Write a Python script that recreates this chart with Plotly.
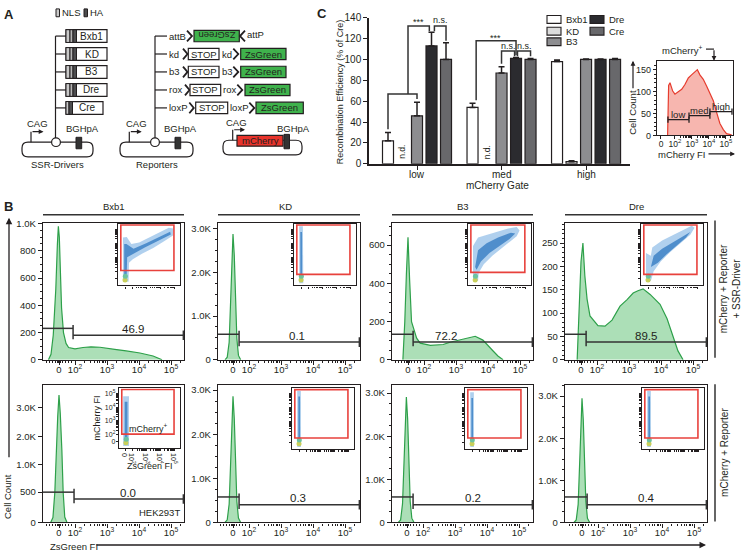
import numpy as np
import plotly.graph_objects as go

W, H = 742, 552
FONT = "Liberation Sans, Arial, Helvetica, sans-serif"
INK = "#231f20"

# ====================== DATA ======================
# Panel C: recombination efficiency (% of Cre) per mCherry gate
gates = ["low", "med", "high"]
drivers = ["Bxb1", "KD", "B3", "Dre", "Cre"]
eff_bxb1 = [22, 54, 98]
eff_kd = [None, None, 2]
eff_b3 = [46, 87, 100]
eff_dre = [113, 101, 100]
eff_cre = [100, 100, 100]
sem_bxb1 = [8, 4, 1.5]
sem_kd = [None, None, 1]
sem_b3 = [13, 6, 0.5]
sem_dre = [13, 1, 0.5]
sem_cre = [16, 1, 1]
driver_colors = ["#ffffff", "#dcdcdc", "#8d8d90", "#2b2b2f", "#68686b"]
c_yticks = [0, 20, 40, 60, 80, 100, 120, 140]

# Panel C inset: mCherry histogram (x in display units, 0 -> "0", 0.82 -> 10^2 ...)
mch_x = [0.39, 0.45, 0.53, 0.69, 0.82, 1.02, 1.22, 1.41, 1.61, 1.80, 2.00, 2.14, 2.29,
         2.49, 2.69, 2.88, 3.08, 3.27, 3.47, 3.67, 3.86, 4.16]
mch_y = [0, 114, 120, 101, 94, 99, 105, 116, 131, 138, 145, 150, 138, 128, 112, 96, 79,
         53, 27, 13, 4, 1]
mch_gate_edges = [0.41, 1.65, 2.88, 4.18]
mch_gate_levels = [36, 45, 54]
mch_yticks = [0, 50, 100, 150]
fi_ticktext = ["0", "10<sup>2</sup>", "10<sup>3</sup>", "10<sup>4</sup>", "10<sup>5</sup>"]
fi_tickvals_c = [0, 0.82, 1.82, 2.82, 3.82]
fi_tickvals_b = [0, 0.5, 1.5, 2.5, 3.5]

# Panel B histograms (ZsGreen FI display units: 0 -> "0", 0.5 -> 10^2, 1.5 -> 10^3 ...)
panel_names = ["Bxb1", "KD", "B3", "Dre"]
h1x_bxb1 = [-0.33, -0.25, -0.18, -0.1, -0.05, -0.02, 0.01, 0.04, 0.08, 0.14, 0.22, 0.3, 0.5,
            0.75, 1.0, 1.28, 1.55, 1.8, 2.1, 2.53, 2.94, 3.1, 3.22]
h1y_bxb1 = [0, 40, 180, 520, 850, 980, 900, 640, 380, 200, 120, 90, 80, 90, 95, 92, 85, 75,
            65, 50, 28, 12, 0]
h1x_kd = [-0.25, -0.18, -0.12, -0.08, -0.04, 0, 0.04, 0.08, 0.12, 0.17, 0.24]
h1y_kd = [0, 60, 400, 1200, 2280, 2870, 2380, 1380, 490, 100, 0]
h1x_b3 = [-0.16, -0.1, -0.05, 0, 0.05, 0.11, 0.27, 0.38, 0.7, 1.1, 1.31, 1.62, 1.94, 2.1,
          2.34, 2.5, 2.66, 2.81, 2.97]
h1y_b3 = [0, 200, 450, 641, 420, 200, 113, 87, 75, 80, 92, 103, 118, 123, 103, 77, 46, 20, 0]
h1x_dre = [-0.12, -0.06, 0, 0.06, 0.12, 0.19, 0.28, 0.53, 0.75, 0.97, 1.22, 1.44, 1.63,
           1.78, 1.94, 2.16, 2.31, 2.47, 2.69, 2.88, 3.03, 3.19]
h1y_dre = [0, 100, 210, 250, 180, 130, 94, 73, 72, 85, 115, 129, 143, 148, 152, 140, 130,
           119, 88, 52, 19, 0]
h2x_bxb1 = [-0.26, -0.19, -0.13, -0.09, -0.04, 0, 0.04, 0.09, 0.13, 0.18, 0.25]
h2y_bxb1 = [0, 80, 500, 1400, 2700, 3450, 2800, 1500, 500, 90, 0]
h2x_kd = [-0.25, -0.18, -0.12, -0.08, -0.04, 0, 0.04, 0.08, 0.12, 0.17, 0.24]
h2y_kd = [0, 60, 420, 1200, 2250, 2860, 2350, 1350, 480, 100, 0]
h2x_b3 = [-0.27, -0.2, -0.14, -0.1, -0.06, -0.02, 0.02, 0.06, 0.1, 0.15, 0.22]
h2y_b3 = [0, 60, 430, 1230, 2300, 2910, 2400, 1380, 490, 100, 0]
h2x_dre = [-0.25, -0.18, -0.12, -0.08, -0.04, 0, 0.04, 0.08, 0.12, 0.17, 0.24]
h2y_dre = [0, 60, 430, 1250, 2330, 2950, 2430, 1400, 500, 100, 0]

# gates (ZsGreen+ threshold) and percentages
gate1_x = [0.44, 0.19, 0.16, 0.16]
gate1_pct = ["46.9", "0.1", "72.2", "89.5"]
gate2_x = [0.47, 0.19, 0.19, 0.16]
gate2_pct = ["0.0", "0.3", "0.2", "0.4"]

# y-axis tick values (counts)
yt1_bxb1 = [0, 200, 400, 600, 800, 1000]
yl1_bxb1 = ["0", "200", "400", "600", "800", "1.0K"]
yt_k = [0, 1000, 2000, 3000]
yl_k = ["0", "1.0K", "2.0K", "3.0K"]
yt1_b3 = [0, 200, 400, 600]
yt1_dre = [0, 50, 100, 150, 200, 250]
yt2_bxb1 = [0, 500, 1000, 2000, 3000]
yl2_bxb1 = ["0", "500", "1.0K", "2.0K", "3.0K"]
# row-2 Bxb1 count axis is drawn with unevenly spaced labels (as in the original)
bxb1_r2_knots = [0, 500, 1000, 2000, 3000, 4000]
bxb1_r2_disp = [0, 31, 59, 88, 117, 146]

# inset scatter clouds (ZsGreen FI, mCherry FI) outlines
c1_bxb1_out = [(-0.15, -0.25), (-0.15, 2.9), (0.12, 2.95), (0.45, 2.45), (1.0, 2.55), (1.8, 2.95),
               (2.6, 3.35), (3.1, 3.6), (3.42, 3.55), (3.4, 3.05), (2.8, 2.65), (2.0, 2.15),
               (1.2, 1.75), (0.55, 1.35), (0.28, 1.1), (0.25, -0.25)]
c1_bxb1_in = [(-0.06, 0.3), (-0.06, 2.45), (0.1, 2.45), (0.6, 2.1), (1.5, 2.5), (2.5, 2.98),
              (3.2, 3.32), (3.25, 3.12), (2.4, 2.7), (1.4, 2.2), (0.6, 1.75), (0.15, 1.5), (0.12, 0.3)]
c1_kd_out = [(-0.13, -0.35), (-0.13, 3.7), (0.13, 3.7), (0.16, -0.35)]
c1_kd_in = [(-0.05, -0.1), (-0.05, 3.3), (0.07, 3.3), (0.08, -0.1)]
c1_b3_out = [(-0.15, -0.2), (-0.15, 2.3), (0.2, 2.9), (0.8, 3.1), (1.5, 3.3), (2.3, 3.55),
             (2.9, 3.65), (3.1, 3.4), (2.9, 3.0), (2.4, 2.6), (1.8, 2.1), (1.2, 1.6), (0.6, 1.0),
             (0.25, 0.4), (0.2, -0.2)]
c1_b3_in = [(0.0, 0.8), (0.2, 2.0), (0.8, 2.5), (1.6, 2.9), (2.5, 3.25), (2.8, 3.2), (2.4, 2.8),
            (1.7, 2.3), (1.0, 1.8), (0.4, 1.2), (0.1, 0.6)]
c1_dre_out = [(-0.15, -0.2), (-0.15, 1.8), (0.2, 1.6), (0.3, 2.2), (1.0, 2.7), (1.8, 3.1),
              (2.6, 3.5), (3.1, 3.75), (3.3, 3.6), (3.0, 3.1), (2.3, 2.5), (1.6, 1.9), (0.9, 1.2),
              (0.4, 0.5), (0.2, -0.2)]
c1_dre_in = [(0.2, 0.8), (0.4, 1.6), (1.0, 2.1), (1.8, 2.6), (2.6, 3.1), (3.0, 3.3), (2.7, 2.9),
             (2.0, 2.3), (1.3, 1.7), (0.7, 1.1)]
c2_bxb1_out = [(-0.2, -0.35), (-0.2, 3.3), (0.22, 3.3), (0.22, -0.35)]
c2_bxb1_in = [(-0.09, -0.1), (-0.09, 2.9), (0.11, 2.9), (0.11, -0.1)]
c2_kd_out = [(-0.13, -0.35), (-0.13, 3.7), (0.13, 3.7), (0.14, -0.35)]
c2_kd_in = [(-0.05, -0.1), (-0.05, 3.3), (0.07, 3.3), (0.07, -0.1)]
c2_b3_out = [(-0.13, -0.35), (-0.13, 3.6), (0.13, 3.6), (0.14, -0.35)]
c2_b3_in = [(-0.05, -0.1), (-0.05, 3.2), (0.07, 3.2), (0.07, -0.1)]
c2_dre_out = [(-0.13, -0.35), (-0.13, 3.7), (0.13, 3.7), (0.14, -0.35)]
c2_dre_in = [(-0.05, -0.1), (-0.05, 3.3), (0.07, 3.3), (0.07, -0.1)]
inset_gate_y0_r1 = [0.56, 0.28, 0.42, 0.28]
inset_gate_y0_r2 = [0.52, 0.29, 0.29, 0.29]

# Panel A labels
reporter_sites = ["attB", "kd", "b3", "rox", "loxP"]

# ====================== HELPERS ======================
fig = go.Figure()
shapes, annots, layout = [], [], {}


def X(p): return p / W
def Y(p): return 1 - p / H
def xd(l, r): return [X(l), X(r)]
def yd(t, b): return [Y(b), Y(t)]
def xid(n): return "x" if n == 1 else f"x{n}"
def yid(n): return "y" if n == 1 else f"y{n}"
def xak(n): return "xaxis" if n == 1 else f"xaxis{n}"
def yak(n): return "yaxis" if n == 1 else f"yaxis{n}"


def text(x, y, s, size=10, xa="center", ya="middle", angle=0, color=INK,
         xref="paper", yref="paper", bold=False):
    if xref == "paper":
        x = X(x)
    if yref == "paper":
        y = Y(y)
    if bold:
        s = f"<b>{s}</b>"
    annots.append(dict(x=x, y=y, xref=xref, yref=yref, text=s, showarrow=False,
                       xanchor=xa, yanchor=ya, textangle=angle, borderpad=0,
                       font=dict(size=size, color=color, family=FONT)))


def line(x0, y0, x1, y1, w=1.2, color=INK):
    shapes.append(dict(type="line", xref="paper", yref="paper", x0=X(x0), y0=Y(y0),
                       x1=X(x1), y1=Y(y1), line=dict(color=color, width=w)))


def rect(x0, y0, x1, y1, fill="white", color=INK, w=1.2):
    shapes.append(dict(type="rect", xref="paper", yref="paper", x0=X(x0), y0=Y(y1),
                       x1=X(x1), y1=Y(y0), fillcolor=fill, line=dict(color=color, width=w)))


def path(pts, w=1.2, color=INK):
    s = "M " + " L ".join(f"{X(a):.5f},{Y(b):.5f}" for a, b in pts)
    shapes.append(dict(type="path", xref="paper", yref="paper", path=s,
                       line=dict(color=color, width=w)))


def rrect(x0, y0, x1, y1, r=6, w=1.2):
    def P(a, b): return f"{X(a):.5f},{Y(b):.5f}"
    s = (f"M {P(x0 + r, y0)} L {P(x1 - r, y0)} Q {P(x1, y0)} {P(x1, y0 + r)} "
         f"L {P(x1, y1 - r)} Q {P(x1, y1)} {P(x1 - r, y1)} L {P(x0 + r, y1)} "
         f"Q {P(x0, y1)} {P(x0, y1 - r)} L {P(x0, y0 + r)} Q {P(x0, y0)} {P(x0 + r, y0)} Z")
    shapes.append(dict(type="path", xref="paper", yref="paper", path=s,
                       line=dict(color=INK, width=w)))


def circle(cx, cy, r, w=1.2):
    shapes.append(dict(type="circle", xref="paper", yref="paper", x0=X(cx - r), y0=Y(cy + r),
                       x1=X(cx + r), y1=Y(cy - r), fillcolor="white",
                       line=dict(color=INK, width=w)))


def arrow(x0, y0, x1, y1, w=1.2, size=1.0, color=INK):
    annots.append(dict(x=X(x1), y=Y(y1), xref="paper", yref="paper", ax=x0 - x1, ay=y0 - y1,
                       axref="pixel", ayref="pixel", text="", showarrow=True, arrowhead=2,
                       arrowsize=size, arrowwidth=w, arrowcolor=color))


def chev(x0, yc, w=5, h=11, right=True):
    if right:
        path([(x0, yc - h / 2), (x0 + w, yc), (x0, yc + h / 2)], w=1.8)
    else:
        path([(x0 + w, yc - h / 2), (x0, yc), (x0 + w, yc + h / 2)], w=1.8)


# ====================== PANEL A ======================
text(8.5, 10, "A", 13, bold=True)
rect(56, 4, 59.5, 12, fill="#c9c9c9", w=1)
text(60.5, 8, "NLS", 9.5, xa="left")
rect(84, 4, 87.5, 12, fill="#4d4d4f", w=1)
text(88.5, 8, "HA", 9.5, xa="left")

row_y = [31.7, 50, 68.3, 86.7, 105]
drv_right = [107, 107, 107, 107, 103]
line(55.5, 31.7, 55.5, 135.7)
for i, name in enumerate(drivers):
    yc = row_y[i]
    line(55.5, yc, 66, yc)
    rect(66, yc - 6.5, drv_right[i], yc + 6.5)
    if name != "Cre":
        rect(66, yc - 6.5, 70, yc + 6.5, fill="#c9c9c9", w=1)
        rect(70, yc - 6.5, 73, yc + 6.5, fill="#b5b5b5", w=1)
        rect(73, yc - 6.5, 76.5, yc + 6.5, fill="#4d4d4f", w=1)
        text((76.5 + drv_right[i]) / 2, yc, name, 10)
    else:
        rect(66, yc - 6.5, 69, yc + 6.5, fill="#c9c9c9", w=1)
        rect(69, yc - 6.5, 72.5, yc + 6.5, fill="#4d4d4f", w=1)
        text((72.5 + drv_right[i]) / 2, yc, name, 10)

rrect(22, 140, 93, 155)
circle(56, 140, 4.4)
rect(76, 135, 81.7, 146.7, fill="#333333", w=1)
line(31, 140, 31, 129.3)
arrow(31, 129.3, 43.5, 129.3, size=0.8)
text(37, 120.7, "CAG", 9.5)
text(82, 126, "BGHpA", 9.5)
text(57, 163, "SSR-Drivers", 9.5)

# reporters
line(155, 31.7, 155, 135.7)
rrect(120, 140, 193, 155)
circle(155, 140, 4.4)
rect(175, 135, 180.7, 146.7, fill="#333333", w=1)
line(129.3, 140, 129.3, 129.3)
arrow(129.3, 129.3, 141.7, 129.3, size=0.8)
text(136.7, 120.7, "CAG", 9.5)
text(180, 126, "BGHpA", 9.5)
text(157, 163, "Reporters", 9.5)

GREEN = "#3fb24c"
bh = 5.8
for i, site in enumerate(reporter_sites):
    yc = row_y[i]
    line(155, yc, 167, yc)
    text(168, yc, site, 9.5, xa="left")
# attB / attP row (inverted ZsGreen)
yc = row_y[0]
chev(187, yc)
rect(194, yc - bh, 239.3, yc + bh, fill=GREEN)
text(216.7, yc, "ZsGreen", 9.5, angle=180)
chev(240, yc, right=False)
text(246, yc - 2, "attP", 9.5, xa="left")
# STOP cassettes
stop_rows = [  # (row, chev1, stop0, stop1, site2_x, chev2, green0, green1)
    (1, 183, 188.3, 219, 220.5, 233.3, 240.7, 286),
    (2, 183, 188.3, 219, 220.5, 233.3, 240.7, 286),
    (3, 185, 190, 220.7, 221.7, 237.3, 245, 290),
    (4, 189.3, 195.7, 227.7, 229, 249.3, 256, 303.3),
]
for r, c1, s0, s1, tx, c2, g0, g1 in stop_rows:
    yc = row_y[r]
    chev(c1, yc, w=4.5)
    rect(s0, yc - bh, s1, yc + bh)
    text((s0 + s1) / 2, yc, "STOP", 9.5)
    text(tx, yc, reporter_sites[r], 9.5, xa="left")
    chev(c2, yc, w=5)
    rect(g0, yc - bh, g1, yc + bh, fill=GREEN)
    text((g0 + g1) / 2, yc, "ZsGreen", 9.5)

# mCherry plasmid
rrect(223, 138, 302, 153)
rect(237, 133, 283, 144, fill="#e8342b")
text(260, 138.5, "mCherry", 9.5)
rect(284, 132, 289.5, 146.7, fill="#333333", w=1)
line(232.7, 138, 232.7, 127.3)
arrow(232.7, 127.3, 245, 127.3, size=0.8)
text(236, 120, "CAG", 9.5)
text(293, 126, "BGHpA", 9.5)

# ====================== PANEL C ======================
text(322, 9, "C", 13, bold=True)
slot = 14.5 / 84.5
barw = 11 / 84.5
series_vals = [eff_bxb1, eff_kd, eff_b3, eff_dre, eff_cre]
series_err = [sem_bxb1, sem_kd, sem_b3, sem_dre, sem_cre]
for i, name in enumerate(drivers):
    xs = [g + (i - 2) * slot for g in range(len(gates))]
    fig.add_trace(go.Bar(
        x=xs, y=series_vals[i], width=barw, name=name, xaxis="x", yaxis="y",
        marker=dict(color=driver_colors[i], line=dict(color=INK, width=1.2)),
        error_y=dict(type="data", symmetric=False, array=series_err[i], arrayminus=[0, 0, 0],
                     color=INK, thickness=1.5, width=3),
        showlegend=False, hoverinfo="skip"))
    for g, v in enumerate(series_vals[i]):
        if v is None:
            text(g + (i - 2) * slot, 11, "n.d.", 8.5, angle=-90, xref="x", yref="y")

layout["xaxis"] = dict(domain=xd(369, 630), range=[-0.568, 2.52], tickvals=[0, 1, 2],
                       ticktext=gates, showticklabels=False, ticks="outside", ticklen=4,
                       tickwidth=1.2, tickcolor=INK,
                       showline=True, linecolor=INK, linewidth=1.5, showgrid=False,
                       zeroline=False, anchor="y")
layout["yaxis"] = dict(domain=yd(13, 162), range=[0, 140], tickvals=c_yticks, ticks="outside",
                       ticklen=4, tickwidth=1.2, tickcolor=INK, showline=True, linecolor=INK,
                       linewidth=1.5, showgrid=False, zeroline=False,
                       tickfont=dict(size=10, color=INK), anchor="x")
for g, gname in enumerate(gates):
    annots.append(dict(x=g, y=Y(172.5), xref="x", yref="paper", text=gname, showarrow=False,
                       xanchor="center", yanchor="middle", borderpad=0,
                       font=dict(size=10, color=INK, family=FONT)))


def bx(g, s):
    return g + (s - 2) * slot


def bracket(pts):
    s = "M " + " L ".join(f"{a:.4f},{b:.2f}" for a, b in pts)
    shapes.append(dict(type="path", xref="x", yref="y", path=s,
                       line=dict(color="#333333", width=1.5)))


bracket([(bx(0, 0), 33), (bx(0, 0), 67), (bx(0, 2), 67), (bx(0, 2), 62)])
bracket([(bx(0, 1.38), 67), (bx(0, 1.38), 132), (bx(0, 2.85), 132), (bx(0, 2.85), 127)])
bracket([(bx(0, 3.2), 127), (bx(0, 3.2), 132), (bx(0, 4), 132), (bx(0, 4), 118)])
text(bx(0, 2.1), 136, "***", 9, xref="x", yref="y")
text(bx(0, 3.6), 137.5, "n.s.", 9, xref="x", yref="y")
bracket([(bx(1, 0.25), 61), (bx(1, 0.25), 118), (bx(1, 3), 118), (bx(1, 3), 104)])
bracket([(bx(1, 2), 96), (bx(1, 2), 108), (bx(1, 2.9), 108), (bx(1, 2.9), 103)])
bracket([(bx(1, 3.1), 103), (bx(1, 3.1), 108), (bx(1, 4), 108), (bx(1, 4), 103)])
text(bx(1, 1.6), 121, "***", 9, xref="x", yref="y")
text(bx(1, 2.45), 112.5, "n.s.", 9, xref="x", yref="y")
text(bx(1, 3.6), 112.5, "n.s.", 9, xref="x", yref="y")

text(340, 89, "Recombination Efficiency (% of Cre)", 9, angle=-90)
text(497, 184, "mCherry Gate", 10)

leg_pos = [(547, 10.7), (547, 22.7), (547, 33.5), (590, 10.7), (590, 22.7)]
for i, name in enumerate(drivers):
    lx, ly = leg_pos[i]
    rect(lx, ly, lx + 14, ly + 8, fill=driver_colors[i], w=1.1)
    text(lx + 18, ly + 4, name, 9.5, xa="left")

# C inset
minor_c = [0.82 + n + np.log10(k) for n in range(3) for k in range(2, 10)] + \
          [3.82 + np.log10(2), 3.82 + np.log10(3)]
fig.add_trace(go.Scatter(x=mch_x, y=mch_y, mode="lines", fill="tozeroy", xaxis="x2",
                         yaxis="y2", line=dict(color="#e63c2e", width=1.2),
                         fillcolor="rgba(240,110,95,0.5)", showlegend=False, hoverinfo="skip"))
layout["xaxis2"] = dict(domain=xd(657, 733), range=[-0.235, 4.24], tickvals=fi_tickvals_c,
                        ticktext=fi_ticktext, ticks="outside", ticklen=3, tickcolor=INK,
                        showline=True, mirror=True, linecolor=INK, linewidth=1.3,
                        showgrid=False, zeroline=False, tickfont=dict(size=8.5, color=INK),
                        ticklabelstandoff=-3,
                        minor=dict(tickmode="array", tickvals=minor_c, ticks="outside",
                                   ticklen=2, tickcolor=INK), anchor="y2")
layout["yaxis2"] = dict(domain=yd(57, 133), range=[0, 170], tickvals=mch_yticks,
                        ticks="outside", ticklen=3, tickcolor=INK, showline=True, mirror=True,
                        linecolor=INK, linewidth=1.3, showgrid=False, zeroline=False,
                        tickfont=dict(size=9, color=INK),
                        minor=dict(tickmode="array", tickvals=list(range(10, 170, 10)),
                                   ticks="outside", ticklen=2, tickcolor=INK), anchor="x2")
for gi, gname in enumerate(gates):
    x0, x1, lv = mch_gate_edges[gi], mch_gate_edges[gi + 1], mch_gate_levels[gi]
    for xa_, xb_, ya_, yb_ in [(x0, x1, lv, lv), (x0, x0, lv - 7, lv + 7), (x1, x1, lv - 7, lv + 7)]:
        shapes.append(dict(type="line", xref="x2", yref="y2", x0=xa_, x1=xb_, y0=ya_, y1=yb_,
                           line=dict(color=INK, width=1.3)))
    text((x0 + x1) / 2, lv + 12, gname, 9.5, xref="x2", yref="y2")
text(682, 46, "mCherry<sup>+</sup>", 9.5)
line(706, 45, 714, 45)
arrow(714, 45, 714, 57, size=0.8)
text(633, 110, "Cell Count", 9.5, angle=-90)
arrow(633, 86, 633, 57, size=0.8)
text(682, 153, "mCherry FI", 9.5)
arrow(707, 152, 735, 152, size=0.8)

# ====================== PANEL B ======================
text(8, 206, "B", 13, bold=True)
frames_x = [(43, 184), (218, 360), (392, 533), (565, 707)]
row_tb = [(222, 362), (388, 528)]
zeros = [[59, 233, 408, 581], [59, 233, 407, 582]]
UNIT = 32
insets = [[(118, 180, 223, 286), (294, 356, 223, 286), (468, 531, 223, 286), (641, 703, 223, 286)],
          [(119, 180, 391, 452), (292, 354, 391, 453), (465, 527, 391, 453), (642, 704, 391, 453)]]
hist = [[(h1x_bxb1, h1y_bxb1), (h1x_kd, h1y_kd), (h1x_b3, h1y_b3), (h1x_dre, h1y_dre)],
        [(h2x_bxb1, h2y_bxb1), (h2x_kd, h2y_kd), (h2x_b3, h2y_b3), (h2x_dre, h2y_dre)]]
yinfo = [[([0, 1007], yt1_bxb1, yl1_bxb1, 50), ([0, 3134], yt_k, yl_k, 250),
          ([0, 718], yt1_b3, [str(v) for v in yt1_b3], 50),
          ([0, 294], yt1_dre, [str(v) for v in yt1_dre], 10)],
         [None, ([0, 3111], yt_k, yl_k, 250), ([0, 3182], yt_k, yl_k, 250),
          ([0, 3256], yt_k, yl_k, 250)]]
clouds = [[(c1_bxb1_out, c1_bxb1_in), (c1_kd_out, c1_kd_in), (c1_b3_out, c1_b3_in),
           (c1_dre_out, c1_dre_in)],
          [(c2_bxb1_out, c2_bxb1_in), (c2_kd_out, c2_kd_in), (c2_b3_out, c2_b3_in),
           (c2_dre_out, c2_dre_in)]]
gates_x = [gate1_x, gate2_x]
gates_pct = [gate1_pct, gate2_pct]
inset_y0 = [inset_gate_y0_r1, inset_gate_y0_r2]
lab_x = [[2.31, 2.0, 1.19, 2.03], [2.16, 2.03, 2.06, 2.03]]

minor_b = [-0.4, -0.3, -0.2, -0.1, -0.04, -0.02, 0.02, 0.04, 0.1, 0.2, 0.3, 0.4] + \
          [0.5 + n + np.log10(k) for n in range(3) for k in range(2, 10)] + [3.5 + np.log10(2)]
minor_i = [0.5 + n + np.log10(k) for n in range(3) for k in range(2, 10)]

GFILL = "rgba(72,184,96,0.45)"
GLINE = "#2ea04a"

for r in range(2):
    top, bot = row_tb[r]
    for p in range(4):
        n = 3 + r * 4 + p
        l, rr = frames_x[p]
        z = zeros[r][p]
        xr = [(l - z) / UNIT, (rr - z) / UNIT]
        hx, hy = hist[r][p]
        if r == 1 and p == 0:
            hy_plot = list(np.interp(hy, bxb1_r2_knots, bxb1_r2_disp))
            yrange = [0, 140]
            ytv = list(np.interp(yt2_bxb1, bxb1_r2_knots, bxb1_r2_disp))
            ytt = yl2_bxb1
            yminor = []
        else:
            yrange, ytv, ytt, ms = yinfo[r][p]
            hy_plot = hy
            yminor = list(np.arange(0, yrange[1], ms))
        fig.add_trace(go.Scatter(x=hx, y=hy_plot, mode="lines", fill="tozeroy",
                                 xaxis=xid(n), yaxis=yid(n), line=dict(color=GLINE, width=1.2),
                                 fillcolor=GFILL, showlegend=False, hoverinfo="skip"))
        layout[xak(n)] = dict(domain=xd(l, rr), range=xr, tickvals=fi_tickvals_b,
                              ticktext=fi_ticktext, ticks="outside", ticklen=4, tickcolor=INK,
                              showline=True, mirror=True, linecolor=INK, linewidth=1.4,
                              showgrid=False, zeroline=False, tickfont=dict(size=9.5, color=INK),
                              ticklabelstandoff=-3,
                              minor=dict(tickmode="array", tickvals=minor_b, ticks="outside",
                                         ticklen=2, tickcolor=INK), anchor=yid(n))
        ya = dict(domain=yd(top, bot), range=yrange, tickvals=ytv, ticktext=ytt, ticks="outside",
                  ticklen=4, tickcolor=INK, showline=True, mirror=True, linecolor=INK,
                  linewidth=1.4, showgrid=False, zeroline=False,
                  tickfont=dict(size=9.5, color=INK), anchor=xid(n))
        if yminor:
            ya["minor"] = dict(tickmode="array", tickvals=yminor, ticks="outside", ticklen=2,
                               tickcolor=INK)
        layout[yak(n)] = ya

        # gate bars
        if p == 0:
            ly, ry = ((0.229, 0.179) if r == 0 else (0.221, 0.171))
        else:
            ly, ry = 0.186, 0.129
        gx = gates_x[r][p]
        yref = f"{yid(n)} domain"
        for x0_, x1_, y0_, y1_ in [(xr[0], gx, ly, ly), (gx, gx, ly + 0.025, ry - 0.03),
                                   (gx, xr[1], ry, ry), (xr[1] - 0.02, xr[1] - 0.02, ry + 0.035, ry - 0.035)]:
            shapes.append(dict(type="line", xref=xid(n), yref=yref, x0=x0_, x1=x1_, y0=y0_,
                               y1=y1_, line=dict(color="#333333", width=1.5)))
        text(lab_x[r][p], ry + 6.5 / 140, gates_pct[r][p], 11.5, xref=xid(n), yref=yref)

        # inset dot plot
        m = 11 + r * 4 + p
        il, ir, it, ib = insets[r][p]
        show_lab = (r == 1 and p == 0)
        layout[xak(m)] = dict(domain=xd(il, ir), range=[-0.5, 3.9], tickvals=fi_tickvals_b,
                              ticktext=fi_ticktext, ticks="outside", ticklen=2, tickcolor=INK,
                              showticklabels=show_lab, tickfont=dict(size=7, color=INK),
                              ticklabelstandoff=-3,
                              showline=True, mirror=True, linecolor=INK, linewidth=1.4,
                              showgrid=False, zeroline=False,
                              minor=dict(tickmode="array", tickvals=minor_i, ticks="outside",
                                         ticklen=1.5, tickcolor=INK), anchor=yid(m))
        layout[yak(m)] = dict(domain=yd(it, ib), range=[-0.5, 3.9], tickvals=fi_tickvals_b,
                              ticktext=fi_ticktext, ticks="outside", ticklen=2, tickcolor=INK,
                              showticklabels=show_lab, tickfont=dict(size=7, color=INK),
                              ticklabelstandoff=-1,
                              showline=True, mirror=True, linecolor=INK, linewidth=1.4,
                              showgrid=False, zeroline=False,
                              minor=dict(tickmode="array", tickvals=minor_i, ticks="outside",
                                         ticklen=1.5, tickcolor=INK), anchor=xid(m))
        outer, inner = clouds[r][p]
        for poly, col in [(outer, "rgba(150,192,232,0.75)"), (inner, "rgba(55,125,195,0.8)")]:
            fig.add_trace(go.Scatter(x=[a for a, b in poly] + [poly[0][0]],
                                     y=[b for a, b in poly] + [poly[0][1]], mode="lines",
                                     fill="toself", fillcolor=col, line=dict(width=0),
                                     xaxis=xid(m), yaxis=yid(m), showlegend=False,
                                     hoverinfo="skip"))
        fig.add_trace(go.Scatter(x=[0.0, 0.02], y=[-0.12, 0.15], mode="markers",
                                 marker=dict(color=["#c9cf5a", "#6cc3a0"], size=5),
                                 xaxis=xid(m), yaxis=yid(m), showlegend=False, hoverinfo="skip"))
        shapes.append(dict(type="rect", xref=xid(m), yref=yid(m), x0=-0.3, x1=3.47,
                           y0=inset_y0[r][p], y1=3.8, line=dict(color="#e8413c", width=1.6)))

# row titles
title_x = [113.5, 285, 462.5, 636]
for p, name in enumerate(panel_names):
    text(title_x[p], 206, name, 9.5)
    line(frames_x[p][0], 214, frames_x[p][1], 214, w=1.5, color="#333333")

line(715, 220, 715, 360, w=1.5, color="#333333")
text(730, 290, "mCherry + Reporter<br>+ SSR-Driver", 10, angle=-90)
line(715, 387, 715, 527, w=1.5, color="#333333")
text(725, 457, "mCherry + Reporter", 10, angle=-90)

text(181, 518, "HEK293T", 9.5, xa="right")
text(97, 422, "mCherry FI", 9, angle=-90)
text(150, 470, "ZsGreen FI", 9)
text(148, 432, "mCherry<sup>+</sup>", 9)

arrow(9, 458, 9, 217, w=1.3, size=1.0)
text(8, 502, "Cell Count", 9.5, angle=-90)
text(49, 546, "ZsGreen FI", 9.5, xa="left", ya="top")
arrow(95, 551, 706, 551, w=1.3, size=1.0)

fig.update_layout(width=W, height=H, autosize=False, margin=dict(l=0, r=0, t=0, b=0),
                  paper_bgcolor="white", plot_bgcolor="rgba(0,0,0,0)", showlegend=False,
                  barmode="overlay", font=dict(family=FONT, color=INK, size=10),
                  shapes=shapes, annotations=annots, **layout)
fig.write_html("out.html")
